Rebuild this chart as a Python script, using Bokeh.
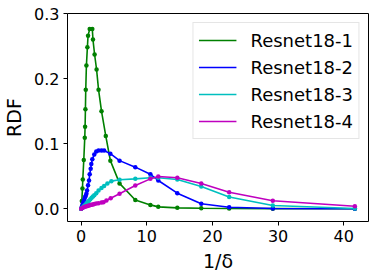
from bokeh.plotting import figure
from bokeh.models import Range1d, FixedTicker, PrintfTickFormatter, Legend, LegendItem
from bokeh.embed import file_html
from bokeh.resources import INLINE

# ---- data ----
series_names = ["Resnet18-1", "Resnet18-2", "Resnet18-3", "Resnet18-4"]
series_colors = ["#008000", "#0000ff", "#00bfbf", "#bf00bf"]

x_r1 = [0, 0.1, 0.2, 0.25, 0.4, 0.55, 0.6, 0.65, 0.7, 0.8, 0.95, 1.05, 1.3, 1.7,
        1.8, 2.05, 2.35, 2.65, 3.1, 3.75, 4.45, 5.85, 8.25, 10.55, 11.75, 14.65,
        18.3, 22.55, 29.2, 41.7]
y_r1 = [0, 0.012, 0.031, 0.045, 0.075, 0.109, 0.126, 0.153, 0.183, 0.22, 0.248,
        0.266, 0.276, 0.276, 0.26, 0.237, 0.214, 0.183, 0.150, 0.112, 0.074, 0.039,
        0.0135, 0.006, 0.003, 0.0015, 0.0008, 0.0005, 0.0002, 0.0]

x_r2 = [0, 0.1, 0.2, 0.3, 0.4, 0.5, 0.6, 0.7, 0.8, 0.9, 1.05, 1.2, 1.3, 1.45, 1.55,
        1.7, 2.0, 2.3, 2.65, 3.1, 3.5, 4.45, 5.85, 8.25, 10.55, 11.75, 14.65, 18.3,
        22.55, 29.2, 41.7]
y_r2 = [0, 0.003, 0.006, 0.009, 0.012, 0.015, 0.018, 0.02, 0.023, 0.028, 0.036,
        0.0435, 0.053, 0.0615, 0.069, 0.076, 0.0835, 0.088, 0.0897, 0.0897, 0.0895,
        0.0846, 0.074, 0.064, 0.053, 0.0435, 0.024, 0.0077, 0.0025, 0.0005, 0.0]

x_r3 = [0, 0.2, 0.4, 0.6, 0.8, 1.0, 1.2, 1.4, 1.6, 1.8, 2.0, 2.3, 2.65, 3.1, 3.5,
        4.0, 4.6, 5.85, 8.25, 10.55, 11.75, 14.65, 18.3, 22.55, 29.2, 41.7]
y_r3 = [0, 0.002, 0.004, 0.006, 0.008, 0.0105, 0.0125, 0.0145, 0.017, 0.019, 0.021,
        0.024, 0.028, 0.032, 0.035, 0.039, 0.0425, 0.0446, 0.046, 0.0477, 0.0477,
        0.045, 0.0343, 0.018, 0.005, 0.0005]

x_r4 = [0, 0.2, 0.4, 0.6, 0.8, 1.0, 1.2, 1.4, 1.6, 1.8, 2.0, 2.3, 2.65, 3.1, 3.4,
        3.85, 4.5, 5.85, 8.25, 10.55, 11.75, 14.65, 18.3, 22.55, 29.2, 41.7]
y_r4 = [0, 0.0012, 0.0022, 0.003, 0.0038, 0.0045, 0.0052, 0.0058, 0.0063, 0.0068,
        0.0073, 0.008, 0.0087, 0.0095, 0.0102, 0.0128, 0.0163, 0.023, 0.0358, 0.046,
        0.0497, 0.0477, 0.039, 0.0255, 0.0123, 0.004]

x_ticks = [0, 10, 20, 30, 40]
y_ticks = [0.0, 0.1, 0.2, 0.3]
x_label = "1/δ"
y_label = "RDF"

FONT = "DejaVu Sans"

p = figure(width=375, height=277, output_backend="svg", toolbar_location=None,
           x_range=Range1d(-2.08, 43.78), y_range=Range1d(-0.0195, 0.3),
           min_border_left=66, min_border_right=7, min_border_top=13, min_border_bottom=56)

p.outline_line_color = "black"
p.outline_line_width = 1
p.background_fill_color = "white"
p.border_fill_color = "white"
p.xgrid.visible = False
p.ygrid.visible = False

for ax in (p.xaxis[0], p.yaxis[0]):
    ax.axis_line_color = None
    ax.major_tick_in = 0
    ax.major_tick_out = 4
    ax.major_tick_line_color = "black"
    ax.minor_tick_line_color = None
    ax.major_label_text_font = FONT
    ax.major_label_text_font_size = "16px"
    ax.major_label_text_color = "black"
    ax.axis_label_text_font = FONT
    ax.axis_label_text_font_size = "19px"
    ax.axis_label_text_font_style = "normal"
    ax.axis_label_text_color = "black"
    ax.major_label_standoff = 4

p.xaxis.ticker = FixedTicker(ticks=x_ticks)
p.yaxis.ticker = FixedTicker(ticks=y_ticks)
p.yaxis.formatter = PrintfTickFormatter(format="%.1f")
p.xaxis.axis_label = x_label
p.yaxis.axis_label = y_label
p.xaxis.axis_label_standoff = 5
p.yaxis.axis_label_standoff = 6

xs = [x_r1, x_r2, x_r3, x_r4]
ys = [y_r1, y_r2, y_r3, y_r4]
items = []
for name, col, xv, yv in zip(series_names, series_colors, xs, ys):
    ln = p.line(xv, yv, line_color=col, line_width=1.6)
    sc = p.scatter(xv, yv, size=4.5, fill_color=col, line_color=None)
    items.append(LegendItem(label=name, renderers=[ln]))

legend = Legend(items=items, location="top_right")
legend.margin = 9
legend.padding = 5
legend.spacing = 3
legend.glyph_width = 38
legend.glyph_height = 24
legend.label_standoff = 14
legend.label_text_font = FONT
legend.label_text_font_size = "18px"
legend.label_text_color = "black"
legend.border_line_color = "#cccccc"
legend.border_line_width = 1
legend.background_fill_color = "white"
legend.background_fill_alpha = 0.8
p.add_layout(legend, "center")

open("out.html", "w").write(file_html(p, INLINE))
